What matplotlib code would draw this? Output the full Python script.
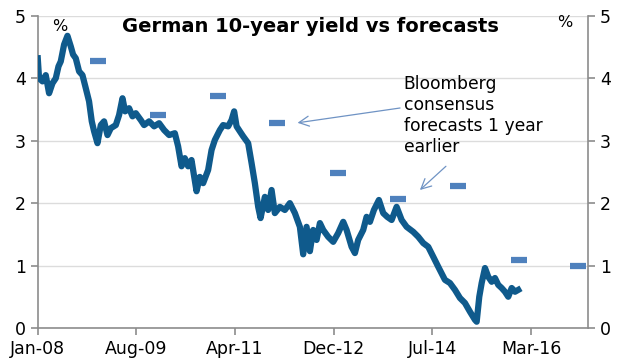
import matplotlib
matplotlib.use("Agg")
import matplotlib.pyplot as plt

# months since Jan-2008 and the 10-year Bund yield (%)
months = [0.0, 0.25, 0.91, 1.54, 2.18, 2.83, 3.47, 3.99, 4.43, 5.07, 5.72, 6.36,
          6.8, 7.32, 7.96, 8.61, 9.25, 9.88, 10.4, 10.85, 11.5, 12.14, 12.77, 13.43,
          14.07, 15.03, 15.66, 16.32, 16.82, 17.59, 18.25, 18.88, 19.85, 20.48,
          21.45, 22.41, 23.37, 24.34, 25.3, 26.4, 27.03, 27.69, 28.32, 28.96,
          29.61, 30.58, 31.21, 31.85, 32.81, 33.47, 34.1, 35.07, 35.7, 36.67,
          37.32, 37.82, 38.29, 38.92, 39.56, 40.52, 41.18, 41.81, 42.45, 42.91,
          43.74, 44.37, 45.03, 45.66, 46.63, 47.59, 48.55, 49.52, 50.48, 51.12,
          51.77, 52.41, 53.04, 53.7, 54.34, 54.97, 55.93, 56.9, 57.86, 58.83,
          59.48, 60.44, 61.08, 61.71, 62.68, 63.33, 63.97, 64.74, 65.7, 66.53,
          67.3, 68.15, 69.11, 70.08, 71.04, 72.31, 73.28, 74.24, 75.2, 76.17,
          77.13, 78.42, 79.38, 80.35, 81.31, 82.27, 83.24, 84.2, 84.53, 85.03,
          85.49, 86.13, 86.76, 87.42, 88.05, 88.69, 89.34, 89.98, 90.61, 91.27,
          91.91, 92.54]
yields = [4.32, 4.0, 3.95, 4.05, 3.76, 3.92, 4.0, 4.19, 4.27, 4.54, 4.68, 4.51,
          4.38, 4.32, 4.11, 4.05, 3.84, 3.63, 3.31, 3.15, 2.96, 3.25, 3.31, 3.09,
          3.2, 3.25, 3.41, 3.68, 3.47, 3.52, 3.39, 3.44, 3.33, 3.25,
          3.31, 3.23, 3.28, 3.17, 3.09, 3.12, 2.91, 2.59, 2.72, 2.59,
          2.69, 2.19, 2.42, 2.32, 2.53, 2.85, 3.01, 3.17, 3.25, 3.23,
          3.33, 3.47, 3.23, 3.15, 3.07, 2.96, 2.64, 2.32, 1.94, 1.76,
          2.1, 1.89, 2.21, 1.84, 1.94, 1.89, 2.0, 1.84, 1.62, 1.18,
          1.62, 1.23, 1.57, 1.41, 1.68, 1.57, 1.46, 1.38, 1.52, 1.7,
          1.57, 1.3, 1.2, 1.41, 1.57, 1.78, 1.7, 1.89, 2.05, 1.84,
          1.78, 1.73, 1.94, 1.73, 1.62, 1.54, 1.46, 1.36, 1.3, 1.14,
          0.98, 0.77, 0.72, 0.61, 0.48, 0.4, 0.26, 0.13, 0.1, 0.5,
          0.72, 0.96, 0.82, 0.74, 0.8, 0.69, 0.64, 0.58, 0.5, 0.64,
          0.58, 0.61]

# Bloomberg consensus forecasts made one year earlier
fc_months = [11.6, 23.1, 34.7, 46.1, 57.8, 69.4, 80.9, 92.6, 104.1]
fc_values = [4.28, 3.41, 3.72, 3.28, 2.49, 2.07, 2.28, 1.09, 1.0]

tick_pos = [0, 19, 38, 57, 76, 95]
tick_labels = ["Jan-08", "Aug-09", "Apr-11", "Dec-12", "Jul-14", "Mar-16"]

fig = plt.figure(figsize=(6.4, 3.6), dpi=100)
ax = fig.add_axes([0.059, 0.089, 0.86, 0.867])

ax.plot(months, yields, color="#0f5a8c", lw=4.5, solid_joinstyle="round", zorder=3)
ax.plot(fc_months, fc_values, ls="none", marker="_", ms=12, mew=4.5,
        color="#4f81bd", zorder=4)

ax.set_xlim(0, 106)
ax.set_ylim(0, 5)
ax.set_yticks([0, 1, 2, 3, 4, 5])
ax.set_xticks(tick_pos)
ax.set_xticklabels(tick_labels)
ax.grid(axis="y", color="#dcdcdc", lw=1)
ax.set_axisbelow(True)

for s in ["top", "right"]:
    ax.spines[s].set_visible(False)
for s in ["left", "bottom"]:
    ax.spines[s].set_color("#8c8c8c")
    ax.spines[s].set_linewidth(1.2)
ax.tick_params(colors="#8c8c8c", labelcolor="black", labelsize=12.5, length=5, width=1.2)

ax2 = ax.twinx()
ax2.set_ylim(0, 5)
ax2.set_yticks([0, 1, 2, 3, 4, 5])
for s in ["top", "left", "bottom"]:
    ax2.spines[s].set_visible(False)
ax2.spines["right"].set_color("#8c8c8c")
ax2.spines["right"].set_linewidth(1.2)
ax2.tick_params(colors="#8c8c8c", labelcolor="black", labelsize=12.5, length=5, width=1.2)

ax.text(4.3, 4.83, "%", fontsize=11.5, ha="center", va="center")
ax.text(101.5, 4.9, "%", fontsize=11.5, ha="center", va="center")

ax.set_title("German 10-year yield vs forecasts", fontsize=14, fontweight="bold",
             y=0.92, x=0.495)

ax.text(70.5, 4.05, "Bloomberg\nconsensus\nforecasts 1 year\nearlier", fontsize=12.3,
        ha="left", va="top", linespacing=1.22)

arrow_style = dict(arrowstyle="->", color="#6f93c4", lw=0.9, mutation_scale=18)
ax.annotate("", xy=(49.5, 3.28), xytext=(70.3, 3.53), arrowprops=arrow_style)
ax.annotate("", xy=(73.2, 2.18), xytext=(79.0, 2.62), arrowprops=arrow_style)

fig.savefig("out.png", dpi=100)
